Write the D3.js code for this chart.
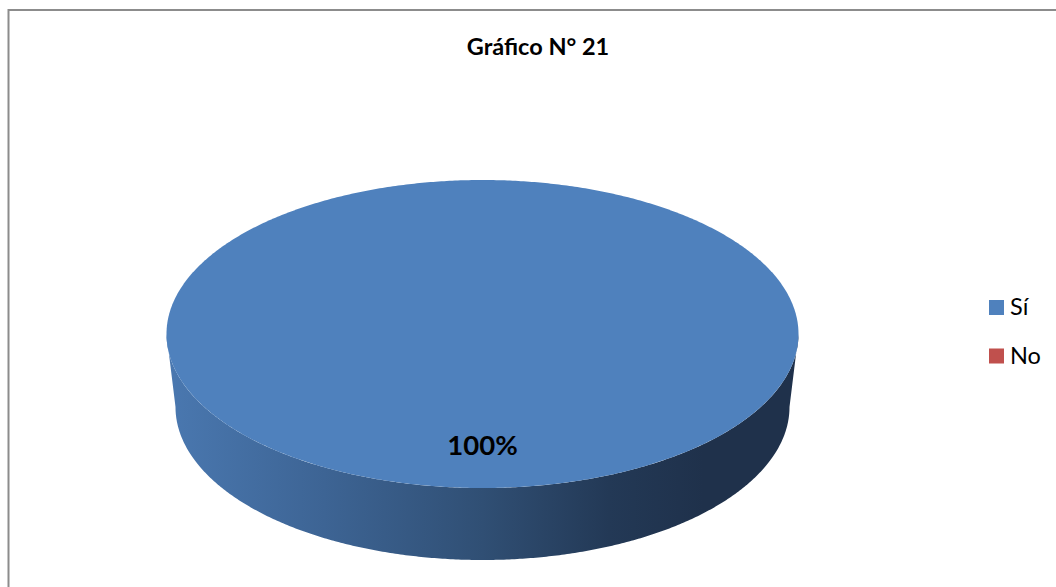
<!DOCTYPE html>
<html>
<head>
<meta charset="utf-8">
<script src="https://cdn.jsdelivr.net/npm/d3@7"></script>
<style>
  html, body { margin: 0; padding: 0; background: #ffffff; }
  svg { display: block; }
</style>
</head>
<body>
<svg id="chart" width="1056" height="587"></svg>
<script>
const title = "Gráfico N° 21";
const categories = ["Sí", "No"];
const values = [100, 0];
const colors = ["#4f81bd", "#c0504d"];

const svg = d3.select("#chart");

// chart frame
svg.append("rect")
  .attr("x", 8.5).attr("y", 10)
  .attr("width", 1100).attr("height", 700)
  .attr("fill", "#ffffff")
  .attr("stroke", "#8c8c8c").attr("stroke-width", 2);

// title
svg.append("text")
  .attr("x", 538).attr("y", 55)
  .attr("text-anchor", "middle")
  .attr("font-family", "Lato, 'Open Sans', sans-serif")
  .attr("font-weight", "bold")
  .attr("font-size", 23.5)
  .attr("fill", "#000")
  .text(title);

// 3D pie geometry
const topE = { cx: 482.5, cy: 334, rx: 316, ry: 154 };
const botE = { cx: 482.5, cy: 407, rx: 307, ry: 153 };

const pie = d3.pie().sort(null).value(d => d)(values);

const defs = svg.append("defs");
const grad = defs.append("linearGradient")
  .attr("id", "sideGrad")
  .attr("gradientUnits", "userSpaceOnUse")
  .attr("x1", botE.cx - topE.rx).attr("x2", botE.cx + topE.rx)
  .attr("y1", 0).attr("y2", 0);
[[0, "#4a78b0"], [0.25, "#3d6494"], [0.5, "#304f74"], [0.7, "#233956"], [0.85, "#1f314b"], [1, "#1f314b"]]
  .forEach(([o, c]) => grad.append("stop").attr("offset", o).attr("stop-color", c));

function pt(e, a) {
  return [e.cx + e.rx * Math.sin(a), e.cy - e.ry * Math.cos(a)];
}
function arcPoints(e, a0, a1, n) {
  const pts = [];
  const steps = Math.max(2, Math.ceil(n * (a1 - a0) / (2 * Math.PI)));
  for (let i = 0; i <= steps; i++) pts.push(pt(e, a0 + (a1 - a0) * i / steps));
  return pts;
}
const line = d3.line().curve(d3.curveLinear);

const slices = pie.filter(d => d.endAngle - d.startAngle > 1e-6);

// sides (front visible portion, angles between PI/2 and 3PI/2)
slices.forEach(d => {
  const a0 = Math.max(d.startAngle, Math.PI / 2);
  const a1 = Math.min(d.endAngle, 3 * Math.PI / 2);
  if (a1 <= a0) return;
  const upper = arcPoints(topE, a0, a1, 720);
  const lower = arcPoints(botE, a0, a1, 720).reverse();
  svg.append("path")
    .attr("d", line(upper.concat(lower)) + "Z")
    .attr("fill", "url(#sideGrad)");
});

// top faces
slices.forEach(d => {
  const full = d.endAngle - d.startAngle >= 2 * Math.PI - 1e-6;
  let pts = arcPoints(topE, d.startAngle, d.endAngle, 720);
  if (!full) pts = [[topE.cx, topE.cy]].concat(pts);
  svg.append("path")
    .attr("d", line(pts) + "Z")
    .attr("fill", colors[d.index]);
});

// data labels
const total = d3.sum(values);
slices.forEach(d => {
  const mid = (d.startAngle + d.endAngle) / 2;
  const p = [topE.cx + 0.72 * topE.rx * Math.sin(mid), topE.cy - 0.72 * topE.ry * Math.cos(mid)];
  svg.append("text")
    .attr("x", p[0]).attr("y", p[1] + 10)
    .attr("text-anchor", "middle")
    .attr("font-family", "Lato, 'Open Sans', sans-serif")
    .attr("font-weight", "bold")
    .attr("font-size", 27.5)
    .attr("fill", "#000")
    .text(Math.round(d.value / total * 100) + "%");
});

// legend
const lg = svg.append("g");
categories.forEach((c, i) => {
  const y = 300 + i * 48.5;
  lg.append("rect")
    .attr("x", 989).attr("y", y)
    .attr("width", 15).attr("height", 15)
    .attr("fill", colors[i]);
  lg.append("text")
    .attr("x", 1010).attr("y", y + 15)
    .attr("font-family", "Lato, 'Open Sans', sans-serif")
    .attr("font-size", 23.5)
    .attr("fill", "#000")
    .text(c);
});
</script>
</body>
</html>
